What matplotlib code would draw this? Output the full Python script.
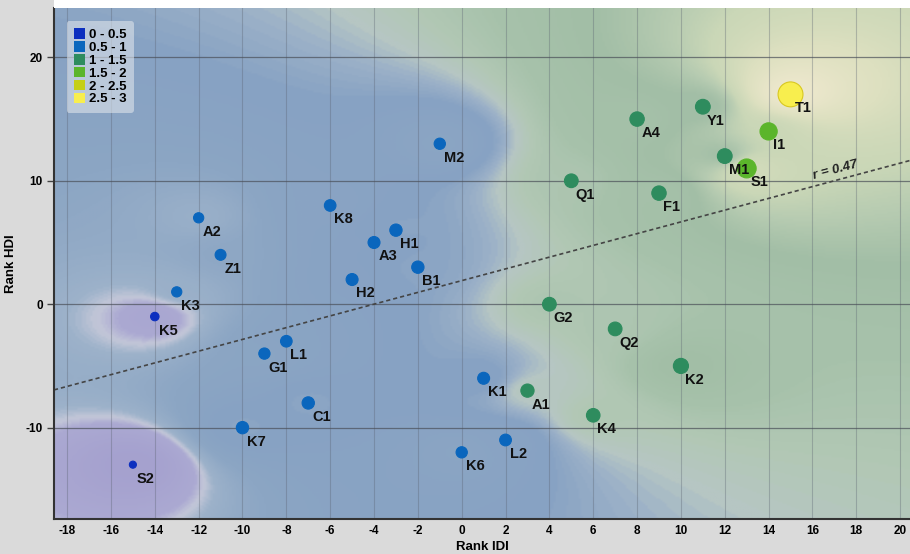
import numpy as np
import matplotlib
matplotlib.use('Agg')
import matplotlib.pyplot as plt
from matplotlib.colors import LinearSegmentedColormap
from matplotlib.patches import Patch, Rectangle

plt.rcParams['font.family'] = ['Liberation Sans', 'DejaVu Sans']
plt.rcParams['font.weight'] = 'bold'
plt.rcParams['axes.unicode_minus'] = False

# data
labels = ['T1', 'I1', 'S1', 'M1', 'Y1', 'A4', 'Q1', 'F1', 'G2', 'Q2', 'K2', 'A1', 'K4',
          'M2', 'K8', 'H1', 'A3', 'B1', 'H2', 'A2', 'Z1', 'K3', 'K5',
          'G1', 'L1', 'C1', 'K7', 'S2', 'K1', 'L2', 'K6']
rank_idi = [15, 14, 13, 12, 11, 8, 5, 9, 4, 7, 10, 3, 6,
            -1, -6, -3, -4, -2, -5, -12, -11, -13, -14,
            -9, -8, -7, -10, -15, 1, 2, 0]
rank_hdi = [17, 14, 11, 12, 16, 15, 10, 9, 0, -2, -5, -7, -9,
            13, 8, 6, 5, 3, 2, 7, 4, 1, -1,
            -4, -3, -8, -10, -13, -6, -11, -12]
values = [2.7, 1.6, 1.85, 1.25, 1.25, 1.2, 1.1, 1.2, 1.1, 1.1, 1.3, 1.03, 1.08,
          0.75, 0.8, 0.9, 0.85, 0.9, 0.85, 0.6, 0.7, 0.6, 0.35,
          0.75, 0.8, 0.9, 0.9, 0.15, 0.85, 0.82, 0.75]

class_labels = ['0 - 0.5', '0.5 - 1', '1 - 1.5', '1.5 - 2', '2 - 2.5', '2.5 - 3']
class_colors = ['#0c2fbf', '#0a66bd', '#2e8c5e', '#5bb52b', '#c5cf16', '#f8ee4e']

trend_slope = 0.476
trend_intercept = 1.91
trend_r = 0.47

x = np.array(rank_idi, dtype=float)
y = np.array(rank_hdi, dtype=float)
v = np.array(values)

xlim = (-18.6, 20.45)
ylim = (-17.4, 24.0)

fig = plt.figure(figsize=(9.10, 5.54), dpi=100, facecolor='#dadada')
fig.patches.append(Rectangle((0.0593, 0.9856), 0.95, 0.02, transform=fig.transFigure,
                             facecolor='white', edgecolor='none', zorder=0))
ax = fig.add_axes([0.0593, 0.0632, 0.9407, 0.9224])

# background field: inverse distance weighting of the values
gx = np.linspace(xlim[0], xlim[1], 400)
gy = np.linspace(ylim[0], ylim[1], 300)
GX, GY = np.meshgrid(gx, gy)
d2 = (GX[..., None] - x) ** 2 + (GY[..., None] - y) ** 2
w = 1.0 / (d2 + 0.5) ** 1.3
field = (w * v).sum(-1) / w.sum(-1)

stops = [
    (0.00, '#a29dcd'),
    (0.44, '#aba9d2'),
    (0.50, '#c3c7d8'),
    (0.56, '#9db2ca'),
    (0.72, '#8ca6c4'),
    (0.88, '#87a2c3'),
    (0.95, '#9cb1c8'),
    (1.00, '#b6c6c3'),
    (1.06, '#b2c8b5'),
    (1.15, '#a7c2ab'),
    (1.30, '#a2bea6'),
    (1.45, '#b6cbb1'),
    (1.60, '#cad7b7'),
    (2.00, '#dde0c0'),
    (2.60, '#ece7cc'),
    (3.00, '#f0eacc'),
]
field_cmap = LinearSegmentedColormap.from_list('field', [(s / 3, c) for s, c in stops])
ax.imshow(field, extent=(xlim[0], xlim[1], ylim[0], ylim[1]), origin='lower',
          cmap=field_cmap, vmin=0, vmax=3, aspect='auto', interpolation='bilinear',
          zorder=0)

# grid
for gxv in np.arange(-18, 21, 2):
    ax.axvline(gxv, color='#5a6270', lw=0.8, alpha=0.35, zorder=1)
for gyv in [-10, 0, 10, 20]:
    ax.axhline(gyv, color='#4a4f58', lw=0.9, alpha=0.7, zorder=1)

# trend line
tx = np.array(xlim)
ax.plot(tx, trend_slope * tx + trend_intercept, ls=(0, (2.5, 1.8)), color='#444444',
        lw=1.2, zorder=2)
ax.text(16.1, trend_slope * 16.1 + trend_intercept + 0.35, f'r = {trend_r}',
        rotation=15, rotation_mode='anchor', fontsize=9.5, fontstyle='italic',
        fontweight='bold', color='#222222', ha='left', va='bottom', zorder=3)

# points
cls = np.clip((v / 0.5).astype(int), 0, 5)
colors = [class_colors[c] for c in cls]
diam_px = 6 + 7 * v
sizes = (diam_px * 0.72) ** 2
edges = ['#d8c820' if c == 5 else col for c, col in zip(cls, colors)]
ax.scatter(x, y, s=sizes, c=colors, edgecolors=edges, linewidths=0.8, zorder=4)
for lab, xi, yi in zip(labels, x, y):
    ax.annotate(lab, (xi, yi), xytext=(3, -5), textcoords='offset points',
                ha='left', va='top', fontsize=10.5, fontweight='bold', color='#111111',
                zorder=5)

ax.set_xlim(*xlim)
ax.set_ylim(*ylim)
ax.set_xticks(np.arange(-18, 21, 2))
ax.set_yticks([-10, 0, 10, 20])
ax.tick_params(axis='x', length=0, pad=4, labelsize=8.5)
ax.tick_params(axis='y', length=5, width=1, color='#444444', pad=3, labelsize=8.5)
for t in ax.get_xticklabels() + ax.get_yticklabels():
    t.set_fontweight('bold')
ax.set_xlabel('Rank IDI', fontsize=9.5, fontweight='bold', labelpad=3)
ax.set_ylabel('Rank HDI', fontsize=9.5, fontweight='bold', labelpad=6)

for side in ['top', 'right']:
    ax.spines[side].set_visible(False)
for side in ['left', 'bottom']:
    ax.spines[side].set_color('#333333')
    ax.spines[side].set_linewidth(1.5)

handles = [Patch(facecolor=c, edgecolor='none') for c in class_colors]
leg = ax.legend(handles, class_labels, loc='upper left', bbox_to_anchor=(0.007, 0.987),
                fontsize=9.5, handlelength=0.85, handleheight=0.85, labelspacing=0,
                handletextpad=0.3, borderpad=0.55, frameon=True, fancybox=True)
leg.get_frame().set_facecolor('#dde3ea')
leg.get_frame().set_alpha(0.6)
leg.get_frame().set_edgecolor('none')
for t in leg.get_texts():
    t.set_fontweight('bold')
leg.set_zorder(6)

fig.savefig('out.png', dpi=100, facecolor=fig.get_facecolor())
